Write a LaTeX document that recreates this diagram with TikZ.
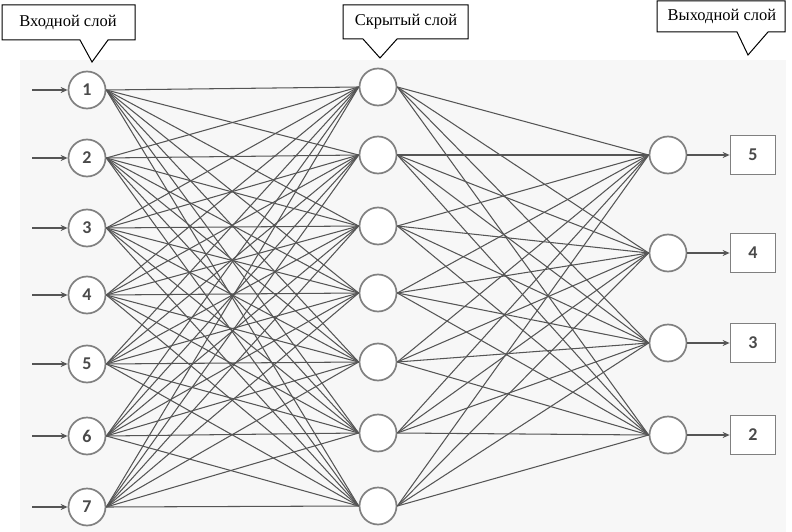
\documentclass[tikz,border=0pt]{standalone}
\usepackage{fontspec}
\setmainfont{Liberation Serif}
\newfontfamily\numfont{Carlito}
\usetikzlibrary{arrows.meta}
\definecolor{bgc}{HTML}{F7F7F7}
\definecolor{edgec}{HTML}{555555}
\definecolor{ringc}{HTML}{808080}
\definecolor{numc}{HTML}{4A4A4A}
\tikzset{
  neuron/.style={circle, draw=ringc, line width=1.7pt, fill=white, minimum size=37pt, inner sep=0pt, font=\numfont\bfseries\fontsize{18}{18}\selectfont, text=numc},
  outbox/.style={rectangle, draw=ringc, line width=1.7pt, fill=white, minimum width=45pt, minimum height=39pt, inner sep=0pt, font=\numfont\bfseries\fontsize{18}{18}\selectfont, text=numc},
  edge/.style={draw=edgec, line width=1.05pt},
  inarrow/.style={draw=edgec, line width=1.8pt, -{Stealth[length=7pt,width=6pt]}},
  calltext/.style={font=\fontsize{16.5}{16.5}\selectfont, inner sep=0pt},
  callline/.style={draw=black, line width=1pt, fill=white, line join=miter}
}
\begin{document}
\begin{tikzpicture}[x=1pt,y=-1pt]
\useasboundingbox (0,0) rectangle (792,532);
\fill[bgc] (20,60) rectangle (786,532);

% callouts
\draw[callline] (2,5) -- (135,5) -- (135,40) -- (108,40) -- (92,62) -- (80,40) -- (2,40) -- cycle;
\node[calltext] (t1) at (68,22) {Входной слой};
\draw[callline] (343,5) -- (468,5) -- (468,39) -- (397,39) -- (380,58) -- (363,39) -- (343,39) -- cycle;
\node[calltext] (t2) at (406,22) {Скрытый слой};
\draw[callline] (657,1) -- (785,1) -- (785,32) -- (768,32) -- (748,55) -- (737,32) -- (657,32) -- cycle;
\node[calltext] (t3) at (722,16) {Выходной слой};

% input layer
\foreach \n/\y in {1/90,2/158,3/228,4/295,5/364,6/436,7/507} {
  \coordinate (s\n) at (32,\y);
}
% hidden layer coordinates
\foreach \n/\y in {1/87,2/155,3/226,4/293,5/362,6/433,7/506} {
  \coordinate (hc\n) at (378,\y);
}
\foreach \n/\y in {1/155,2/253,3/343,4/435} {
  \coordinate (oc\n) at (668,\y);
}

% nodes
\foreach \n/\y in {1/90,2/158,3/228,4/295,5/364,6/436,7/507} {
  \node[neuron] (i\n) at (87,\y) {\n};
}
\foreach \n in {1,...,7} {
  \node[neuron] (h\n) at (hc\n) {};
}
\foreach \n in {1,...,4} {
  \node[neuron] (o\n) at (oc\n) {};
}
\foreach \n/\l in {1/5,2/4,3/3,4/2} {
  \node[outbox] (b\n) at ([xshift=85pt]oc\n) {\l};
}

% connections
\foreach \i in {1,...,7} {
  \foreach \j in {1,...,7} {
    \draw[edge] (i\i.east) -- (h\j.west);
  }
}
\foreach \j in {1,...,7} {
  \foreach \k in {1,...,4} {
    \draw[edge] (h\j.east) -- (o\k.west);
  }
}
\foreach \n in {1,...,7} {
  \draw[inarrow] (s\n) -- (i\n.west);
}
\foreach \n in {1,...,4} {
  \draw[inarrow] (o\n.east) -- (b\n.west);
}
\end{tikzpicture}
\end{document}
